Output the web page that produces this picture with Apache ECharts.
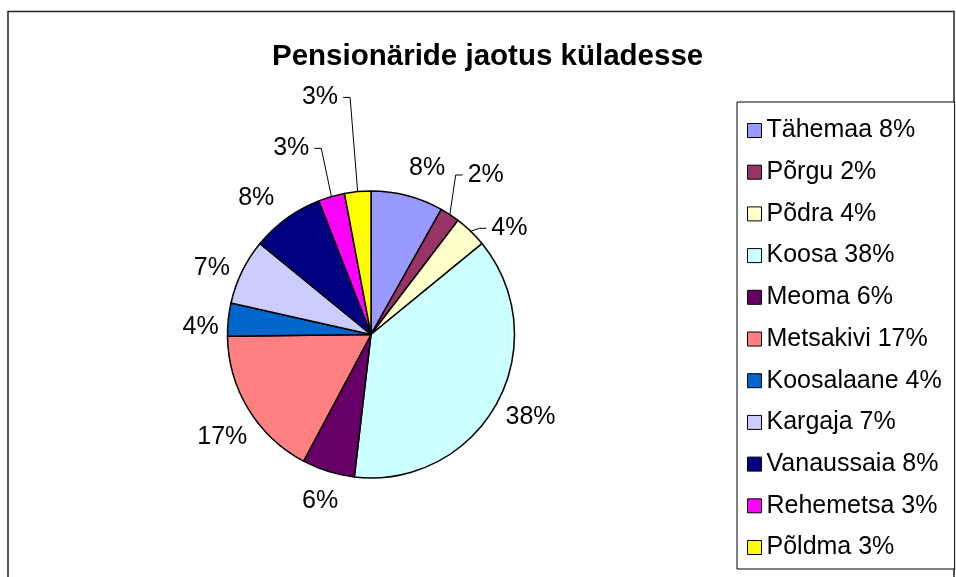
<!DOCTYPE html>
<html>
<head>
<meta charset="utf-8">
<title>Pensionäride jaotus küladesse</title>
<script src="https://cdn.jsdelivr.net/npm/echarts@6/dist/echarts.min.js"></script>
<style>
  html, body { margin: 0; padding: 0; background: #fff; }
  #main { width: 956px; height: 577px; }
</style>
</head>
<body>
<div id="main"></div>
<script>
// andmed
var villages = ['Tähemaa', 'Põrgu', 'Põdra', 'Koosa', 'Meoma', 'Metsakivi', 'Koosalaane', 'Kargaja', 'Vanaussaia', 'Rehemetsa', 'Põldma'];
var pensioners = [11, 3, 5, 51, 8, 23, 5, 10, 11, 4, 4];
var colors = ['#9999FF', '#993366', '#FFFFCC', '#CCFFFF', '#660066', '#FF8080', '#0066CC', '#CCCCFF', '#000080', '#FF00FF', '#FFFF00'];
// which labels have a leader line, how far out they sit and how much they are turned
var hasLeader = [false, true, true, false, false, false, false, false, false, true, true];
var labelPull = [32, 53, 31, 36, 31, 37, 27, 29, 35, 59, 99];
var labelTurn = [4, 2.4, 8.5, -1.4, -0.4, -3.2, -3.5, -3.3, -4, -7.2, -6.8];

var font = '"Liberation Sans", Arial, sans-serif';
var cx = 371, cy = 334.5, R = 143.5;

var total = 0;
pensioners.forEach(function (v) { total += v; });
function pct(i) { return Math.round(pensioners[i] / total * 100); }

// slice mid angles, degrees clockwise from 12 o'clock
var midAngle = [];
var acc = 0;
pensioners.forEach(function (v) {
  midAngle.push((acc + v / 2) / total * 360);
  acc += v;
});

var pieData = villages.map(function (name, i) {
  return {
    name: name,
    value: pensioners[i],
    itemStyle: { color: colors[i] },
    labelLine: { show: hasLeader[i] }
  };
});

var myChart = echarts.init(document.getElementById('main'));

var option = {
  animation: false,
  backgroundColor: '#fff',
  title: {
    text: 'Pensionäride jaotus küladesse',
    left: 272,
    top: 42,
    padding: 0,
    textStyle: { fontFamily: font, fontSize: 29.5, fontWeight: 'bold', color: '#000' }
  },
  graphic: [{
    type: 'rect',
    shape: { x: 8, y: 11.5, width: 946, height: 2000 },
    style: { fill: 'none', stroke: '#222', lineWidth: 1.5 },
    silent: true
  }],
  legend: {
    orient: 'vertical',
    left: 737,
    top: 102,
    padding: [16, 13, 9, 10],
    itemGap: 16.7,
    itemWidth: 14,
    itemHeight: 14,
    icon: 'rect',
    borderColor: '#000',
    borderWidth: 1,
    backgroundColor: '#fff',
    itemStyle: { borderColor: '#000', borderWidth: 1 },
    data: villages,
    formatter: function (name) {
      var i = villages.indexOf(name);
      return name + ' ' + pct(i) + '%';
    },
    textStyle: { fontFamily: font, fontSize: 25, lineHeight: 25, color: '#000' }
  },
  series: [{
    type: 'pie',
    center: [cx, cy],
    radius: [0, R],
    startAngle: 90,
    clockwise: true,
    avoidLabelOverlap: false,
    itemStyle: { borderColor: '#000', borderWidth: 1.5 },
    label: {
      show: true,
      position: 'outside',
      fontFamily: font,
      fontSize: 25,
      color: '#000',
      formatter: function (p) { return Math.round(p.percent) + '%'; }
    },
    labelLine: {
      length: 10,
      length2: 8,
      minTurnAngle: 0,
      lineStyle: { color: '#000', width: 1 }
    },
    labelLayout: function (p) {
      var i = p.dataIndex;
      var a = (midAngle[i] + labelTurn[i]) * Math.PI / 180;
      var d = R + labelPull[i];
      var lx = cx + Math.sin(a) * d;
      var ly = cy - Math.cos(a) * d;
      var out = { x: lx, y: ly, align: 'center', verticalAlign: 'middle' };
      if (hasLeader[i]) {
        var m = midAngle[i] * Math.PI / 180;
        var half = p.labelRect.width / 2;
        var side = lx > cx ? -1 : 1;
        out.labelLinePoints = [
          [cx + Math.sin(m) * R, cy - Math.cos(m) * R],
          [lx + side * (half + 12), ly],
          [lx + side * (half + 5), ly]
        ];
      }
      return out;
    },
    data: pieData
  }]
};

myChart.setOption(option);
</script>
</body>
</html>
